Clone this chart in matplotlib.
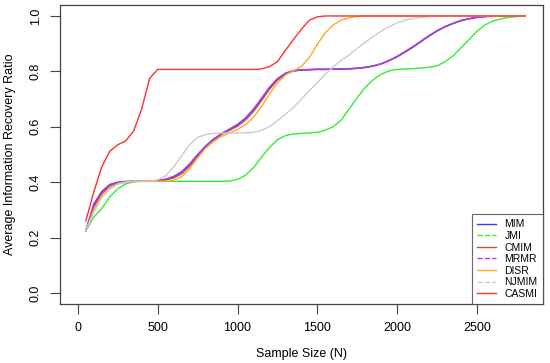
import matplotlib
matplotlib.use("Agg")
import matplotlib.pyplot as plt
from matplotlib.lines import Line2D

plt.rcParams["font.family"] = ["Liberation Sans", "DejaVu Sans"]

# sample sizes
sample_size = [50, 100, 150, 200, 250, 300, 350, 400, 450, 500,
               550, 600, 650, 700, 750, 800, 850, 900, 950, 1000,
               1050, 1100, 1150, 1200, 1250, 1300, 1350, 1400, 1450, 1500,
               1550, 1600, 1650, 1700, 1750, 1800, 1850, 1900, 1950, 2000,
               2050, 2100, 2150, 2200, 2250, 2300, 2350, 2400, 2450, 2500,
               2550, 2600, 2650, 2700, 2750, 2800]

mim = [0.225, 0.318, 0.364, 0.390, 0.399, 0.402, 0.403, 0.403, 0.403, 0.405,
       0.410, 0.419, 0.436, 0.463, 0.497, 0.529, 0.554, 0.574, 0.590, 0.606,
       0.629, 0.661, 0.700, 0.740, 0.771, 0.792, 0.802, 0.805, 0.806, 0.807,
       0.807, 0.808, 0.808, 0.809, 0.811, 0.814, 0.819, 0.827, 0.839, 0.853,
       0.870, 0.888, 0.908, 0.928, 0.946, 0.961, 0.973, 0.983, 0.990, 0.995,
       0.998, 0.999, 1.0, 1.0, 1.0, 1.0]

jmi = [0.224, 0.274, 0.305, 0.347, 0.376, 0.394, 0.401, 0.403, 0.403, 0.403,
       0.403, 0.403, 0.403, 0.403, 0.403, 0.403, 0.403, 0.403, 0.404, 0.410,
       0.425, 0.452, 0.490, 0.525, 0.553, 0.568, 0.574, 0.576, 0.578, 0.580,
       0.588, 0.600, 0.625, 0.665, 0.705, 0.742, 0.770, 0.790, 0.802, 0.807,
       0.809, 0.810, 0.812, 0.815, 0.820, 0.835, 0.856, 0.885, 0.915, 0.945,
       0.968, 0.982, 0.990, 0.995, 0.998, 1.0]

cmim = [0.225, 0.310, 0.358, 0.386, 0.397, 0.401, 0.403, 0.403, 0.403, 0.404,
        0.408, 0.415, 0.430, 0.457, 0.493, 0.527, 0.552, 0.572, 0.587, 0.602,
        0.624, 0.655, 0.694, 0.735, 0.768, 0.790, 0.801, 0.805, 0.806, 0.807,
        0.807, 0.808, 0.808, 0.809, 0.811, 0.814, 0.819, 0.827, 0.839, 0.853,
        0.870, 0.888, 0.908, 0.928, 0.946, 0.961, 0.973, 0.983, 0.990, 0.995,
        0.998, 0.999, 1.0, 1.0, 1.0, 1.0]

mrmr = [0.225, 0.322, 0.367, 0.392, 0.400, 0.403, 0.403, 0.403, 0.404, 0.406,
        0.411, 0.421, 0.438, 0.466, 0.500, 0.531, 0.556, 0.576, 0.592, 0.609,
        0.632, 0.664, 0.703, 0.743, 0.774, 0.794, 0.803, 0.806, 0.807, 0.808,
        0.808, 0.808, 0.809, 0.810, 0.812, 0.815, 0.820, 0.828, 0.840, 0.855,
        0.872, 0.890, 0.910, 0.930, 0.947, 0.962, 0.974, 0.984, 0.990, 0.995,
        0.998, 1.0, 1.0, 1.0, 1.0, 1.0]

disr = [0.225, 0.300, 0.350, 0.380, 0.395, 0.400, 0.402, 0.403, 0.403, 0.403,
        0.403, 0.407, 0.420, 0.448, 0.488, 0.522, 0.547, 0.565, 0.578, 0.590,
        0.608, 0.634, 0.673, 0.718, 0.758, 0.787, 0.802, 0.818, 0.850, 0.898,
        0.940, 0.968, 0.985, 0.994, 0.998, 1.0, 1.0, 1.0, 1.0, 1.0,
        1.0, 1.0, 1.0, 1.0, 1.0, 1.0, 1.0, 1.0, 1.0, 1.0,
        1.0, 1.0, 1.0, 1.0, 1.0, 1.0]

njmim = [0.225, 0.290, 0.345, 0.375, 0.392, 0.400, 0.403, 0.403, 0.404, 0.408,
         0.423, 0.455, 0.495, 0.535, 0.562, 0.572, 0.576, 0.577, 0.577, 0.578,
         0.578, 0.580, 0.587, 0.600, 0.622, 0.645, 0.670, 0.700, 0.730, 0.760,
         0.790, 0.817, 0.840, 0.860, 0.883, 0.905, 0.926, 0.945, 0.962, 0.975,
         0.985, 0.991, 0.995, 0.997, 0.999, 1.0, 1.0, 1.0, 1.0, 1.0,
         1.0, 1.0, 1.0, 1.0, 1.0, 1.0]

casmi = [0.260, 0.365, 0.455, 0.512, 0.535, 0.549, 0.585, 0.665, 0.775, 0.807,
         0.807, 0.807, 0.807, 0.807, 0.807, 0.807, 0.807, 0.807, 0.807, 0.807,
         0.807, 0.807, 0.809, 0.817, 0.835, 0.876, 0.915, 0.952, 0.985, 0.997,
         1.0, 1.0, 1.0, 1.0, 1.0, 1.0, 1.0, 1.0, 1.0, 1.0,
         1.0, 1.0, 1.0, 1.0, 1.0, 1.0, 1.0, 1.0, 1.0, 1.0,
         1.0, 1.0, 1.0, 1.0, 1.0, 1.0]

names = ["MIM", "JMI", "CMIM", "MRMR", "DISR", "NJMIM", "CASMI"]
series = [mim, jmi, cmim, mrmr, disr, njmim, casmi]
colors = ["#3a3aff", "#33ee33", "#c0504d", "#a040f0", "#ffaa22", "#cccccc", "#ff3030"]
styles = ["-", "--", "-", "--", "-", "--", "-"]

fig = plt.figure(figsize=(5.5, 3.63), dpi=100)
ax = fig.add_axes([0.109, 0.1625, 0.878, 0.824])

for vals, c in zip(series, colors):
    ax.plot(sample_size, vals, color=c, lw=1.0)

ax.set_xlim(-112, 2912)
ax.set_ylim(-0.04, 1.04)
ax.set_xticks([0, 500, 1000, 1500, 2000, 2500])
ax.set_yticks([0.0, 0.2, 0.4, 0.6, 0.8, 1.0])
ax.set_yticklabels(["0.0", "0.2", "0.4", "0.6", "0.8", "1.0"], rotation=90, va="center")
ax.tick_params(direction="out", length=7, width=0.8, color="#444444",
               labelsize=9, pad=6)
for s in ax.spines.values():
    s.set_color("#444444")
    s.set_linewidth(0.9)

ax.set_xlabel("Sample Size (N)", fontsize=9, labelpad=10)
ax.set_ylabel("Average Information Recovery Ratio", fontsize=9, labelpad=10)

handles = [Line2D([0], [0], color=c, lw=1.0, ls=ls) for c, ls in zip(colors, styles)]
leg = ax.legend(handles, names, loc="lower right", fontsize=7.5, frameon=True,
                fancybox=False, borderaxespad=0, handlelength=1.8,
                labelspacing=0.15, borderpad=0.5, handletextpad=0.85)
leg.get_frame().set_edgecolor("#444444")
leg.get_frame().set_linewidth(0.8)

fig.savefig("out.png", dpi=100)
